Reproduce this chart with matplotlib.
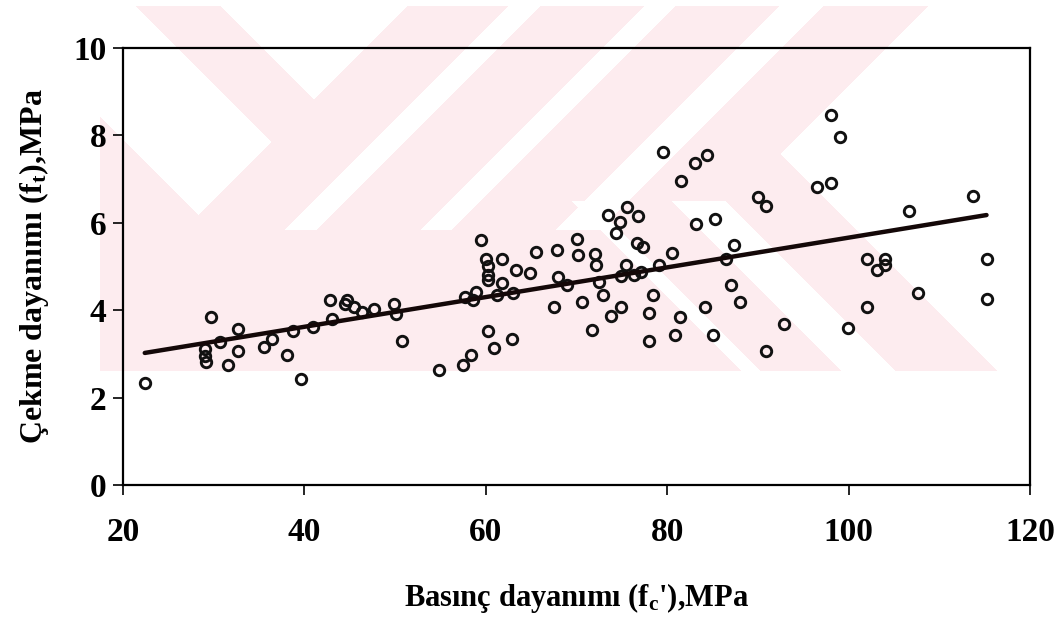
import numpy as np
import matplotlib
matplotlib.use("Agg")
import matplotlib.pyplot as plt

plt.rcParams['font.family'] = ['Liberation Serif', 'DejaVu Serif']
plt.rcParams['mathtext.fontset'] = 'custom'
plt.rcParams['mathtext.rm'] = 'Liberation Serif:bold'
plt.rcParams['mathtext.it'] = 'Liberation Serif:bold'
plt.rcParams['mathtext.bf'] = 'Liberation Serif:bold'

# basinc dayanimi (fc'), MPa
fc = [22.4, 29.7, 29.0, 29.2, 29.0, 30.7, 31.6, 32.7, 32.7, 35.6,
      36.4, 38.1, 39.6, 38.7, 40.9, 42.8, 43.0, 44.7, 44.5, 45.5,
      46.4, 47.7, 49.9, 50.1, 50.8, 54.8, 57.5, 58.4, 60.2, 60.9,
      62.9, 59.5, 60.0, 60.2, 60.2, 60.2, 61.8, 61.8, 63.3, 64.9,
      65.5, 67.8, 70.0, 70.2, 72.0, 72.2, 57.7, 58.9, 58.6, 61.2,
      63.0, 68.0, 68.9, 67.5, 70.6, 71.7, 72.5, 72.9, 73.8, 74.9,
      74.4, 74.8, 76.7, 77.3, 75.5, 74.9, 76.3, 77.1, 79.1, 80.5,
      78.4, 78.0, 78.0, 81.4, 80.9, 83.2, 79.5, 83.1, 84.4, 81.5,
      73.5, 75.6, 76.8, 85.3, 90.0, 90.9, 96.5, 98.1, 99.0, 87.4,
      86.5, 87.0, 88.0, 84.2, 85.0, 90.9, 92.9, 99.9, 98.1, 113.7,
      106.6, 102.0, 103.1, 104.0, 104.0, 115.2, 115.2, 107.7, 102.0]
# cekme dayanimi (ft), MPa
ft = [2.33, 3.84, 2.95, 2.82, 3.11, 3.27, 2.75, 3.57, 3.07, 3.15,
      3.33, 2.97, 2.43, 3.53, 3.61, 4.24, 3.80, 4.24, 4.14, 4.07,
      3.95, 4.03, 4.13, 3.91, 3.30, 2.62, 2.75, 2.98, 3.53, 3.13,
      3.34, 5.61, 5.17, 5.02, 4.81, 4.70, 5.16, 4.62, 4.93, 4.84,
      5.34, 5.38, 5.63, 5.26, 5.29, 5.03, 4.30, 4.41, 4.24, 4.35,
      4.39, 4.75, 4.58, 4.07, 4.18, 3.55, 4.64, 4.35, 3.86, 4.08,
      5.77, 6.01, 5.54, 5.44, 5.04, 4.78, 4.81, 4.87, 5.04, 5.31,
      4.35, 3.94, 3.30, 3.85, 3.44, 5.97, 7.63, 7.36, 7.55, 6.95,
      6.18, 6.35, 6.16, 6.09, 6.58, 6.39, 6.81, 6.91, 7.96, 5.49,
      5.17, 4.58, 4.18, 4.07, 3.44, 3.07, 3.68, 3.59, 8.47, 6.62,
      6.26, 5.17, 4.93, 5.17, 5.03, 5.17, 4.26, 4.39, 4.08]

# regresyon dogrusu
fit_a = 2.26
fit_b = 0.034
fit_range = [22.4, 115.2]

W, H = 1063, 619
fig = plt.figure(figsize=(W / 100, H / 100), dpi=100)

# soluk pembe filigran (taranmis sayfadaki)
X, Y = np.meshgrid(np.arange(W), np.arange(H))
pink = (X >= 100) & (X <= 1000) & (Y >= 6) & (Y <= 370)
white = ((X - Y > -17) & (X - Y < 130) & (X + Y < 413)) \
    | ((X - Y > 214) & (X + Y < 413)) \
    | (X > np.maximum(933 - Y, Y + 626))
for a, b in [(513, 546), (649, 681), (784, 829)]:
    white |= (X + Y > a) & (X + Y < b) & (Y < 230)
for a, b in [(370, 390), (470, 525)]:
    white |= (X - Y > a) & (X - Y < b) & (Y > 200)
mask = pink & ~white
img = np.ones((H, W, 3))
img[mask] = np.array([253, 236, 239]) / 255
bg = fig.add_axes([0, 0, 1, 1], zorder=-1)
bg.imshow(img, aspect='auto', interpolation='nearest')
bg.axis('off')

ax = fig.add_axes([0.1157, 0.2165, 0.969 - 0.1157, 0.9225 - 0.2165])
ax.set_facecolor('none')

ax.plot(fc, ft, 'o', ls='none', ms=7.5, mfc='none', mec='#111111', mew=2.1)
xx = np.array(fit_range)
ax.plot(xx, fit_a + fit_b * xx, color='#140808', lw=3.2, solid_capstyle='round')

ax.set_xlim(20, 120)
ax.set_ylim(0, 10)
ax.set_xticks([20, 40, 60, 80, 100, 120])
ax.set_yticks([0, 2, 4, 6, 8, 10])
for s in ax.spines.values():
    s.set_linewidth(1.6)
ax.tick_params(axis='both', direction='out', length=7, width=1.2,
               labelsize=24)
ax.tick_params(axis='x', pad=16)
ax.tick_params(axis='y', pad=5)
for lab in ax.get_xticklabels() + ax.get_yticklabels():
    lab.set_fontweight('bold')

ax.set_xlabel("Basınç dayanımı (f$_{\\mathrm{c}}$'),MPa", fontsize=22,
              fontweight='bold', labelpad=24)
ax.set_ylabel("Çekme dayanımı (f$_{\\mathrm{t}}$),MPa", fontsize=23,
              fontweight='bold', labelpad=16)

fig.savefig('out.png', dpi=100)
